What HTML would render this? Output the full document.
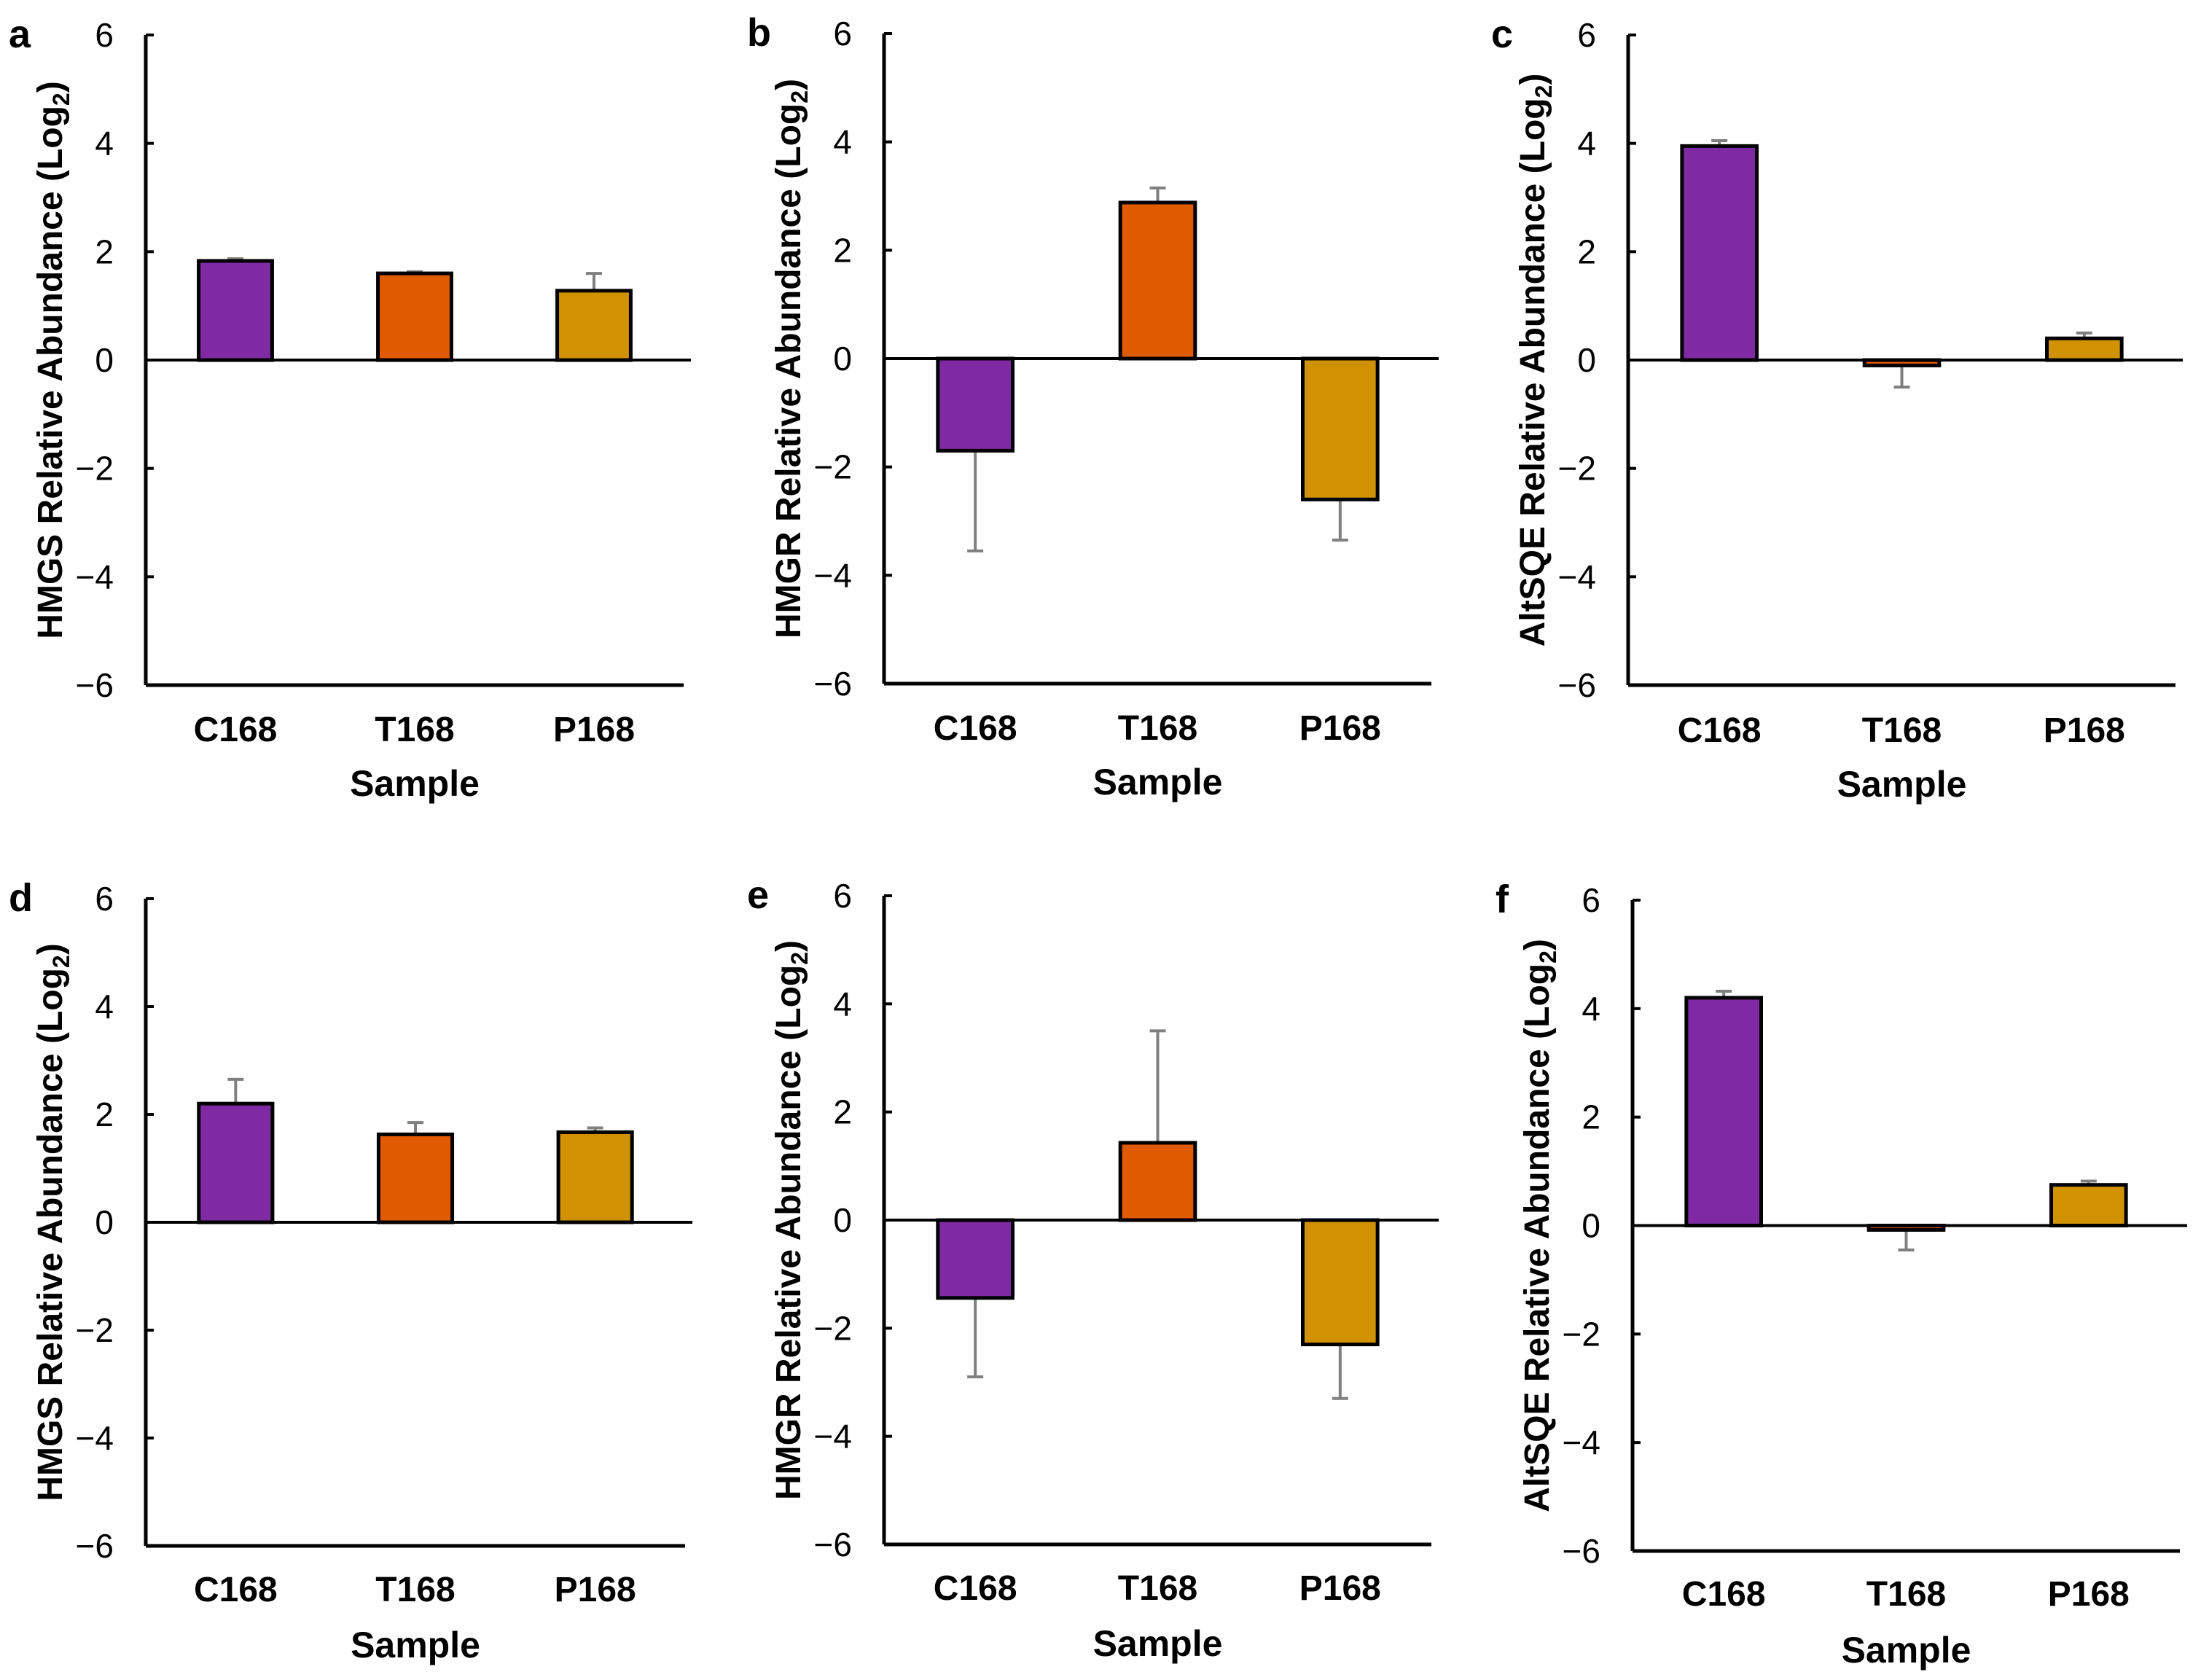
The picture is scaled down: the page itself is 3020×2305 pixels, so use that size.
<!DOCTYPE html>
<html><head><meta charset="utf-8"><style>
html,body{margin:0;padding:0;background:#fff;}
svg{display:block;font-family:"Liberation Sans",Arial,sans-serif;}
</style></head><body>
<svg id="fig" width="3020" height="2305" viewBox="0 0 3020 2305" xmlns="http://www.w3.org/2000/svg"></svg>
<script>
const categories = ["C168","T168","P168"];
const tickValues = [6,4,2,0,-2,-4,-6];
const tickLabels = ["6","4","2","0","\u22122","\u22124","\u22126"];
const barColors = ["#7f2aa2","#e05a00","#d09200"];
const panelLetters = ["a","b","c","d","e","f"];
const panelGenes = ["HMGS","HMGR","AltSQE","HMGS","HMGR","AltSQE"];
const valuesA = [1.83,1.6,1.28];  const errA = [1.87,1.63,1.6];
const valuesB = [-1.7,2.88,-2.6]; const errB = [-3.55,3.15,-3.35];
const valuesC = [3.95,-0.1,0.4];  const errC = [4.05,-0.5,0.5];
const valuesD = [2.2,1.63,1.67];  const errD = [2.65,1.85,1.75];
const valuesE = [-1.44,1.43,-2.3]; const errE = [-2.9,3.5,-3.3];
const valuesF = [4.2,-0.08,0.75]; const errF = [4.32,-0.45,0.82];
const allValues = [valuesA,valuesB,valuesC,valuesD,valuesE,valuesF];
const allErr = [errA,errB,errC,errD,errE,errF];

const layout = [
 {x0:200,x1:938,top:48,bot:940,catY:1017,sampY:1092},
 {x0:1213,x1:1964,top:46,bot:938,catY:1015,sampY:1090},
 {x0:2234,x1:2985,top:48,bot:940,catY:1018,sampY:1093},
 {x0:200,x1:940,top:1233,bot:2121,catY:2197,sampY:2274},
 {x0:1213,x1:1964,top:1229,bot:2119,catY:2195,sampY:2272},
 {x0:2240,x1:2991,top:1235,bot:2128,catY:2203,sampY:2281}
];
const NS="http://www.w3.org/2000/svg";
const svg=document.getElementById('fig');
function mk(tag,attrs,parent){const e=document.createElementNS(NS,tag);for(const k in attrs)e.setAttribute(k,attrs[k]);(parent||svg).appendChild(e);return e;}

layout.forEach((L,p)=>{
  const g=mk('g',{});
  
  
  const y=v=>L.top+(6-v)/12*(L.bot-L.top);
  const band=(L.x1-L.x0)/3;
  const xc=i=>L.x0+band*(i+0.5);
  const bw=band*0.41;
  const lt=mk('text',{x:L.x0-188,y:L.top+17,'font-size':54,'font-weight':'bold'},g);
  lt.textContent=panelLetters[p];
  
  
  tickValues.forEach((v,i)=>{
    const t=mk('line',{x1:L.x0,x2:L.x0+11,y1:y(v),y2:y(v),stroke:'#000','stroke-width':4},g);
    
    
    const tx=mk('text',{x:L.x0-44,y:y(v)+16,'font-size':46,'text-anchor':'end'},g);
    tx.textContent=tickLabels[i];
    
    
  });
  allValues[p].forEach((v,i)=>{
    const e=allErr[p][i];
    const eb=mk('line',{x1:xc(i),x2:xc(i),y1:y(v),y2:y(e),stroke:'#7f7f7f','stroke-width':4},g);
    
    
    const cap=mk('line',{x1:xc(i)-11,x2:xc(i)+11,y1:y(e),y2:y(e),stroke:'#7f7f7f','stroke-width':4},g);
    
    
    const top=Math.min(y(v),y(0)), h=Math.abs(y(v)-y(0));
    const r=mk('rect',{x:xc(i)-bw/2,y:top,width:bw,height:Math.max(h,3),fill:barColors[i],stroke:'#000','stroke-width':5},g);
    
    
  });
  const ya=mk('line',{x1:L.x0,x2:L.x0,y1:L.top,y2:L.bot,stroke:'#000','stroke-width':5},g);
  
  
  const xa=mk('line',{x1:L.x0,x2:L.x1,y1:L.bot,y2:L.bot,stroke:'#000','stroke-width':5},g);
  
  
  const zl=mk('line',{x1:L.x0,x2:L.x1+10,y1:y(0),y2:y(0),stroke:'#000','stroke-width':4},g);
  
  
  categories.forEach((c,i)=>{
    const t=mk('text',{x:xc(i),y:L.catY,'font-size':48,'font-weight':'bold','text-anchor':'middle'},g);
    t.textContent=c;
    
    
  });
  const st=mk('text',{x:(L.x0+L.x1)/2,y:L.sampY,'font-size':50,'font-weight':'bold','text-anchor':'middle'},g);
  st.textContent='Sample';
  
  
  const cy=(L.top+L.bot)/2, cx=L.x0-115;
  const yt=mk('text',{x:cx,y:cy,'font-size':48,'text-anchor':'middle',transform:'rotate(-90 '+cx+' '+cy+')'},g);
  
  
  const b1=document.createElementNS(NS,'tspan');b1.setAttribute('font-weight','bold');b1.textContent=panelGenes[p]+' Relative Abundance (Log';yt.appendChild(b1);
  const b2=document.createElementNS(NS,'tspan');b2.setAttribute('font-weight','bold');b2.setAttribute('font-size','32');b2.setAttribute('dy','10');b2.textContent='2';yt.appendChild(b2);
  const b3=document.createElementNS(NS,'tspan');b3.setAttribute('font-weight','bold');b3.setAttribute('dy','-10');b3.textContent=')';yt.appendChild(b3);
});
</script>
</body></html>
